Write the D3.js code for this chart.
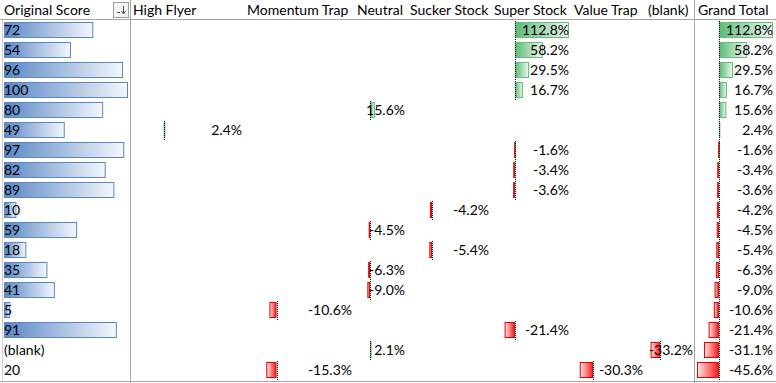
<!DOCTYPE html>
<html>
<head>
<meta charset="utf-8">
<script src="https://cdn.jsdelivr.net/npm/d3@7"></script>
<style>
  html, body { margin: 0; padding: 0; background: #fff; }
  svg { display: block; }
  text { font-family: Lato, "Open Sans", sans-serif; font-size: 14px; fill: #000; }
</style>
</head>
<body>
<svg id="chart" width="776" height="383"></svg>
<script>
// ---------------- data ----------------
const rowHeader = "Original Score";
const scoreLabels = ["72","54","96","100","80","49","97","82","89","10","59","18","35","41","5","91","(blank)","20"];
const scoreBars   = [72,54,96,100,80,49,97,82,89,10,59,18,35,41,5,91,null,null];
const categories  = ["High Flyer","Momentum Trap","Neutral","Sucker Stock","Super Stock","Value Trap","(blank)","Grand Total"];

const highFlyer    = [null,null,null,null,null,2.4,null,null,null,null,null,null,null,null,null,null,null,null];
const momentumTrap = [null,null,null,null,null,null,null,null,null,null,null,null,null,null,-10.6,null,null,-15.3];
const neutral      = [null,null,null,null,15.6,null,null,null,null,null,-4.5,null,-6.3,-9.0,null,null,2.1,null];
const suckerStock  = [null,null,null,null,null,null,null,null,null,-4.2,null,-5.4,null,null,null,null,null,null];
const superStock   = [112.8,58.2,29.5,16.7,null,null,-1.6,-3.4,-3.6,null,null,null,null,null,null,-21.4,null,null];
const valueTrap    = [null,null,null,null,null,null,null,null,null,null,null,null,null,null,null,null,null,-30.3];
const blankCol     = [null,null,null,null,null,null,null,null,null,null,null,null,null,null,null,null,-33.2,null];
const grandTotal   = [112.8,58.2,29.5,16.7,15.6,2.4,-1.6,-3.4,-3.6,-4.2,-4.5,-5.4,-6.3,-9.0,-10.6,-21.4,-31.1,-45.6];

const seriesValues = [highFlyer, momentumTrap, neutral, suckerStock, superStock, valueTrap, blankCol, grandTotal];

// ---------------- layout ----------------
const W = 776, H = 383;
const headerH = 20, rowH = 20;
const firstColW = 131;
const colWidths = [114, 110, 53, 84, 80, 74, 50, 80];
const colLefts = [];
{ let x = firstColW; colWidths.forEach(w => { colLefts.push(x); x += w; }); }

const svg = d3.select("#chart");
const defs = svg.append("defs");

function grad(id, c1, c2) {
  const g = defs.append("linearGradient").attr("id", id).attr("x1", 0).attr("x2", 1).attr("y1", 0).attr("y2", 0);
  g.append("stop").attr("offset", "0%").attr("stop-color", c1);
  g.append("stop").attr("offset", "100%").attr("stop-color", c2);
}
grad("gBlue", "#5a87c5", "#f4f7fc");
grad("gGreen", "#5cbb76", "#eef8f1");
grad("gRed", "#fde6e6", "#ff1a1a");

const rowY = d3.scaleBand().domain(d3.range(scoreLabels.length))
  .range([headerH, headerH + rowH * scoreLabels.length]);

// grid lines
const grid = svg.append("g").attr("stroke", "#a6a6a6").attr("stroke-width", 1);
grid.append("line").attr("x1", 0).attr("x2", W).attr("y1", headerH - 0.5).attr("y2", headerH - 0.5);
grid.append("line").attr("x1", 0).attr("x2", W).attr("y1", rowY.range()[1] + 1.5).attr("y2", rowY.range()[1] + 1.5);
grid.append("line").attr("x1", firstColW - 0.5).attr("x2", firstColW - 0.5).attr("y1", 0).attr("y2", H);
grid.append("line").attr("x1", colLefts[7] - 1.5).attr("x2", colLefts[7] - 1.5).attr("y1", 0).attr("y2", H);
grid.append("line").attr("x1", 2.5).attr("x2", 2.5).attr("y1", headerH).attr("y2", H).attr("stroke", "#d0d0d0");

// header
svg.append("text").attr("x", 4).attr("y", 15).text(rowHeader);
const btn = svg.append("g");
btn.append("rect").attr("x", 113.5).attr("y", 2.5).attr("width", 15).attr("height", 15)
  .attr("fill", "#f3f3f3").attr("stroke", "#a0a0a0");
btn.append("line").attr("x1", 117).attr("x2", 120).attr("y1", 12.5).attr("y2", 12.5).attr("stroke", "#555");
btn.append("line").attr("x1", 123.5).attr("x2", 123.5).attr("y1", 6).attr("y2", 13).attr("stroke", "#555");
btn.append("path").attr("d", "M121.5,11 L123.5,14 L125.5,11").attr("fill", "none").attr("stroke", "#555");

svg.selectAll("text.colhead").data(categories).join("text")
  .attr("class", "colhead")
  .attr("x", (d, i) => colLefts[i] + 2)
  .attr("y", 15)
  .text(d => d);

// first column: score bars + labels
const scoreX = d3.scaleLinear().domain([0, 100]).range([4, 128]);
svg.selectAll("rect.score").data(scoreBars.map((v, i) => ({ v, i })).filter(d => d.v != null)).join("rect")
  .attr("class", "score")
  .attr("x", scoreX(0) + 0.5)
  .attr("y", d => rowY(d.i) + 2.5)
  .attr("width", d => scoreX(d.v) - scoreX(0) - 1)
  .attr("height", 15)
  .attr("fill", "url(#gBlue)")
  .attr("stroke", "#5a87c5");
svg.selectAll("text.score").data(scoreLabels).join("text")
  .attr("class", "score")
  .attr("x", 4)
  .attr("y", (d, i) => rowY(i) + 15)
  .text(d => d);

// value columns
const allVals = seriesValues.flat().filter(v => v != null);
const vMin = d3.min(allVals), vMax = d3.max(allVals);
const fmt = v => v.toFixed(1) + "%";

seriesValues.forEach((vals, c) => {
  const left = colLefts[c], right = colLefts[c] + colWidths[c] - 1;
  const x = d3.scaleLinear().domain([vMin, vMax]).range([left + 1, right - 2]);
  const data = vals.map((v, i) => ({ v, i })).filter(d => d.v != null);
  const g = svg.append("g");
  g.selectAll("rect").data(data).join("rect")
    .attr("x", d => Math.min(x(0), x(d.v)) + 0.5)
    .attr("y", d => rowY(d.i) + 2.5)
    .attr("width", d => Math.max(0.5, Math.abs(x(d.v) - x(0)) - 1))
    .attr("height", 15)
    .attr("fill", d => d.v >= 0 ? "url(#gGreen)" : "url(#gRed)")
    .attr("stroke", d => d.v >= 0 ? "#63be7b" : "#e00000");
  g.selectAll("line").data(data).join("line")
    .attr("x1", Math.round(x(0)) + 0.5).attr("x2", Math.round(x(0)) + 0.5)
    .attr("y1", d => rowY(d.i) + 1)
    .attr("y2", d => rowY(d.i) + rowH)
    .attr("stroke", "#000").attr("stroke-dasharray", "1,1");
  g.selectAll("text").data(data).join("text")
    .attr("x", right - 2)
    .attr("y", d => rowY(d.i) + 15)
    .attr("text-anchor", "end")
    .text(d => fmt(d.v));
});
</script>
</body>
</html>
